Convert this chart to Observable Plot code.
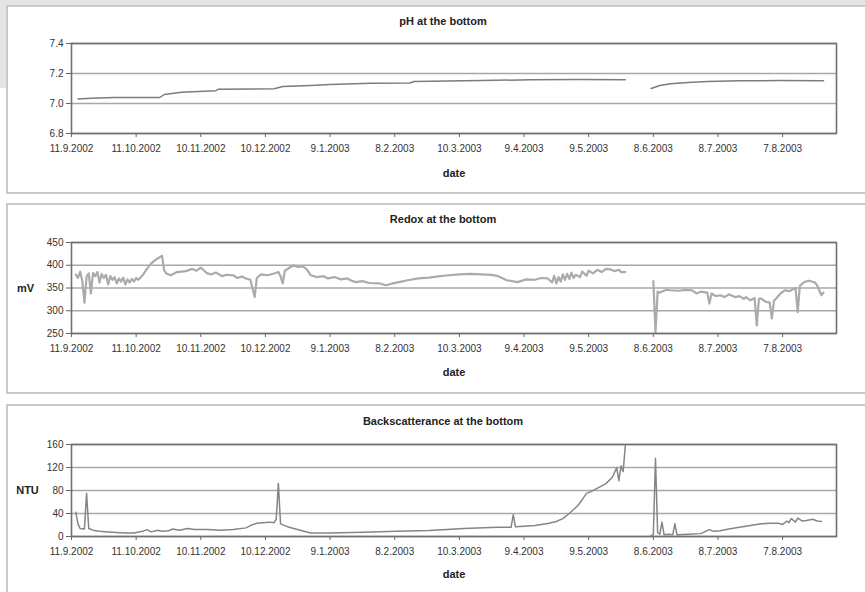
<!DOCTYPE html>
<html>
<head>
<meta charset="utf-8">
<script src="https://cdn.jsdelivr.net/npm/d3@7"></script>
<script src="https://cdn.jsdelivr.net/npm/@observablehq/plot@0.6"></script>
<style>
  html, body { margin: 0; padding: 0; background: #fff; }
  #page { position: relative; width: 865px; height: 592px; overflow: hidden; background: #fff; font-family: "Liberation Sans", Arial, sans-serif; }
  .bg-top { position: absolute; left: 0; top: 0; width: 865px; height: 5px; background: #e4e4e4; }
  .bg-left { position: absolute; left: 0; top: 0; width: 6px; height: 88px; background: #e4e4e4; }
  .panel { position: absolute; left: 6px; width: 900px; border: 2px solid #c9c9c9; border-right: none; box-sizing: border-box; }
  .chart { position: absolute; left: 0; }
</style>
</head>
<body>
<div id="page">
  <div class="bg-top"></div>
  <div class="bg-left"></div>
  <div class="panel" style="top:5px;height:189px;"></div>
  <div class="panel" style="top:203px;height:191px;"></div>
  <div class="panel" style="top:404px;height:200px;"></div>
</div>
<script>
// ---- data ----
const tickLabels = ["11.9.2002","11.10.2002","10.11.2002","10.12.2002","9.1.2003","8.2.2003","10.3.2003","9.4.2003","9.5.2003","8.6.2003","8.7.2003","7.8.2003"];
const xStart = "2002-09-11";
const xEnd = "2003-09-01";

const titles = ["pH at the bottom", "Redox at the bottom", "Backscatterance at the bottom"];
const yLabels = ["", "mV", "NTU"];
const phTicks = [6.8, 7.0, 7.2, 7.4];
const redoxTicks = [250, 300, 350, 400, 450];
const ntuTicks = [0, 40, 80, 120, 160];

const phData = [
["2002-09-14",7.03],["2002-09-20",7.035],["2002-10-01",7.04],["2002-10-22",7.04],["2002-10-24",7.06],
["2002-11-01",7.075],["2002-11-09",7.08],["2002-11-17",7.085],["2002-11-18",7.095],["2002-12-14",7.098],
["2002-12-18",7.113],["2002-12-31",7.12],["2003-01-09",7.127],["2003-01-28",7.135],["2003-02-15",7.137],
["2003-02-17",7.147],["2003-03-20",7.153],["2003-04-12",7.158],["2003-05-05",7.16],["2003-05-26",7.158],
["2003-06-01",null],
["2003-06-07",7.1],["2003-06-11",7.12],["2003-06-16",7.131],["2003-06-24",7.14],["2003-07-03",7.147],
["2003-07-18",7.151],["2003-08-06",7.153],["2003-08-26",7.151]
];

const redoxData = [
["2002-09-13",380],["2002-09-14",372],["2002-09-15",386],["2002-09-16",366],["2002-09-17",318],["2002-09-18",375],
["2002-09-19",382],["2002-09-20",338],["2002-09-21",383],["2002-09-22",376],["2002-09-23",385],["2002-09-24",362],
["2002-09-25",381],["2002-09-26",372],["2002-09-27",379],["2002-09-28",358],["2002-09-29",376],["2002-09-30",368],
["2002-10-01",374],["2002-10-02",360],["2002-10-03",371],["2002-10-04",364],["2002-10-05",373],["2002-10-06",358],
["2002-10-07",369],["2002-10-08",362],["2002-10-09",370],["2002-10-10",364],["2002-10-11",372],["2002-10-12",368],
["2002-10-14",378],["2002-10-16",392],["2002-10-18",404],["2002-10-20",412],["2002-10-22",418],["2002-10-23",421],
["2002-10-24",389],["2002-10-25",382],["2002-10-27",378],["2002-10-30",385],["2002-11-03",387],["2002-11-06",392],
["2002-11-08",388],["2002-11-10",395],["2002-11-13",382],["2002-11-15",380],["2002-11-17",384],["2002-11-20",376],
["2002-11-22",379],["2002-11-25",378],["2002-11-27",372],["2002-11-29",375],["2002-12-01",371],["2002-12-03",368],
["2002-12-05",330],["2002-12-06",372],["2002-12-08",380],["2002-12-11",378],["2002-12-14",382],["2002-12-16",385],
["2002-12-17",376],["2002-12-18",360],["2002-12-19",388],["2002-12-21",394],["2002-12-23",400],["2002-12-25",396],
["2002-12-27",398],["2002-12-29",392],["2002-12-31",378],["2003-01-03",374],["2003-01-06",376],["2003-01-08",371],
["2003-01-11",374],["2003-01-14",369],["2003-01-17",371],["2003-01-19",366],["2003-01-21",363],["2003-01-24",365],
["2003-01-27",361],["2003-02-01",360],["2003-02-04",356],["2003-02-07",360],["2003-02-10",363],["2003-02-14",367],
["2003-02-19",371],["2003-02-24",373],["2003-03-01",376],["2003-03-05",378],["2003-03-10",380],["2003-03-15",381],
["2003-03-20",380],["2003-03-25",379],["2003-03-28",376],["2003-04-01",367],["2003-04-06",363],["2003-04-10",369],
["2003-04-14",368],["2003-04-17",372],["2003-04-20",371],["2003-04-22",362],["2003-04-23",377],["2003-04-24",360],
["2003-04-25",374],["2003-04-26",364],["2003-04-27",380],["2003-04-28",368],["2003-04-29",381],["2003-04-30",370],
["2003-05-01",384],["2003-05-02",372],["2003-05-03",379],["2003-05-05",374],["2003-05-06",386],["2003-05-08",377],
["2003-05-09",388],["2003-05-11",382],["2003-05-13",390],["2003-05-15",385],["2003-05-17",392],["2003-05-19",391],
["2003-05-21",387],["2003-05-23",390],["2003-05-24",385],["2003-05-26",385],
["2003-06-01",null],
["2003-06-08",365],["2003-06-09",253],["2003-06-10",342],["2003-06-11",340],["2003-06-14",346],["2003-06-16",345],
["2003-06-20",344],["2003-06-23",346],["2003-06-26",345],["2003-06-28",338],["2003-06-30",342],["2003-07-03",340],
["2003-07-04",316],["2003-07-05",338],["2003-07-07",332],["2003-07-09",334],["2003-07-11",330],["2003-07-13",336],
["2003-07-16",330],["2003-07-18",332],["2003-07-20",326],["2003-07-21",330],["2003-07-23",323],["2003-07-25",328],
["2003-07-26",268],["2003-07-27",326],["2003-07-28",327],["2003-07-30",320],["2003-08-01",318],["2003-08-02",283],
["2003-08-03",322],["2003-08-04",327],["2003-08-06",338],["2003-08-08",345],["2003-08-10",343],["2003-08-13",350],
["2003-08-14",297],["2003-08-15",355],["2003-08-17",363],["2003-08-19",366],["2003-08-20",365],["2003-08-22",362],
["2003-08-23",356],["2003-08-25",334],["2003-08-26",340]
];

const ntuData = [
["2002-09-13",42],["2002-09-14",22],["2002-09-15",14],["2002-09-17",13],["2002-09-18",75],["2002-09-19",14],
["2002-09-21",11],["2002-09-24",9],["2002-09-28",8],["2002-10-02",7],["2002-10-06",6],["2002-10-10",6],
["2002-10-14",9],["2002-10-16",12],["2002-10-18",8],["2002-10-21",11],["2002-10-23",9],["2002-10-26",10],
["2002-10-28",13],["2002-10-31",11],["2002-11-04",14],["2002-11-07",12],["2002-11-13",12],["2002-11-19",11],
["2002-11-25",12],["2002-12-01",15],["2002-12-03",19],["2002-12-06",23],["2002-12-09",24],["2002-12-12",25],
["2002-12-14",24],["2002-12-15",30],["2002-12-16",92],["2002-12-17",22],["2002-12-19",19],["2002-12-21",16],
["2002-12-24",13],["2002-12-27",10],["2002-12-31",6],["2003-01-09",6],["2003-01-24",7.5],["2003-02-09",9],
["2003-02-24",10.5],["2003-03-12",14],["2003-03-28",16],["2003-04-03",16],["2003-04-04",38],["2003-04-05",17],
["2003-04-07",17.5],["2003-04-14",19],["2003-04-20",22.6],["2003-04-24",26],["2003-04-27",31],["2003-04-30",40],
["2003-05-02",47],["2003-05-04",54],["2003-05-06",64],["2003-05-08",75],["2003-05-10",78],["2003-05-12",82],
["2003-05-14",86],["2003-05-17",92],["2003-05-20",103],["2003-05-22",120],["2003-05-23",97],["2003-05-24",123],
["2003-05-25",113],["2003-05-26",158],
["2003-06-01",null],
["2003-06-07",2],["2003-06-08",3],["2003-06-09",136],["2003-06-10",7],["2003-06-11",4],["2003-06-12",25],
["2003-06-13",3],["2003-06-15",4],["2003-06-17",3],["2003-06-18",22],["2003-06-19",3],["2003-06-24",4],
["2003-06-30",5],["2003-07-04",12],["2003-07-06",9],["2003-07-09",10],["2003-07-13",13],["2003-07-18",16],
["2003-07-23",19],["2003-07-28",22],["2003-08-01",23],["2003-08-05",23],["2003-08-07",21],["2003-08-09",27],
["2003-08-10",24],["2003-08-11",31],["2003-08-12",28],["2003-08-13",25],["2003-08-14",32],["2003-08-16",27],
["2003-08-18",28],["2003-08-21",30],["2003-08-23",27],["2003-08-25",26]
];

// ---- helpers ----
const parseISO = d3.utcParse("%Y-%m-%d");
const parseDMY = d3.utcParse("%d.%m.%Y");
const xTicks = tickLabels.map(parseDMY);
const fmtDMY = d => `${d.getUTCDate()}.${d.getUTCMonth() + 1}.${d.getUTCFullYear()}`;
const toRows = arr => arr.map(([d, v]) => ({date: parseISO(d), value: v}));

const FONT = "'Liberation Sans', Arial, Helvetica, sans-serif";

function panel({top, height, mt, mb, data, yDomain, yTicks, yFmt, title, ylabel, stroke, strokeWidth, titleDy, dateDy, ylabelDx}) {
  const rows = toRows(data);
  const marks = [
    Plot.gridY(yTicks, {stroke: "#a8a8a8", strokeOpacity: 1, strokeWidth: 1.4}),
    Plot.axisY(yTicks, {tickSize: 5, tickPadding: 3, tickFormat: yFmt, stroke: "#666", fill: "#333", label: null}),
    Plot.axisX(xTicks, {tickSize: 4, tickPadding: 7, tickFormat: fmtDMY, stroke: "#666", fill: "#333", label: null}),
    Plot.lineY(rows, {x: "date", y: "value", stroke, strokeWidth, curve: "linear"}),
    Plot.frame({stroke: "#707070", strokeWidth: 1.6}),
    Plot.text([title], {frameAnchor: "top", lineAnchor: "middle", dy: titleDy, dx: -11, fontWeight: "bold", fontSize: 11, fill: "#222"}),
    Plot.text(["date"], {frameAnchor: "bottom", lineAnchor: "middle", dy: dateDy, fontWeight: "bold", fontSize: 11, fill: "#222"})
  ];
  if (ylabel) marks.push(Plot.text([ylabel], {frameAnchor: "left", lineAnchor: "middle", textAnchor: "middle", dx: ylabelDx, fontWeight: "bold", fontSize: 11, fill: "#222"}));
  const svg = Plot.plot({
    width: 865,
    height,
    marginLeft: 71,
    marginRight: 29,
    marginTop: mt,
    marginBottom: mb,
    style: {fontFamily: FONT, fontSize: "10px", background: "transparent", color: "#333", overflow: "visible"},
    x: {type: "utc", domain: [parseISO(xStart), parseISO(xEnd)]},
    y: {domain: yDomain},
    marks
  });
  svg.classList.add("chart");
  svg.style.top = top + "px";
  document.getElementById("page").appendChild(svg);
}

panel({top: 0, height: 190, mt: 43, mb: 57, data: phData, yDomain: [6.8, 7.4], yTicks: phTicks, yFmt: d3.format(".1f"),
  title: titles[0], ylabel: yLabels[0], stroke: "#7c7c7c", strokeWidth: 1.5, titleDy: -22, dateDy: 39.5, ylabelDx: -46});
panel({top: 200, height: 190, mt: 42, mb: 57, data: redoxData, yDomain: [250, 450], yTicks: redoxTicks, yFmt: d3.format("d"),
  title: titles[1], ylabel: yLabels[1], stroke: "#ababab", strokeWidth: 2.2, titleDy: -23, dateDy: 39, ylabelDx: -46});
panel({top: 400, height: 192, mt: 44, mb: 56, data: ntuData, yDomain: [0, 160], yTicks: ntuTicks, yFmt: d3.format("d"),
  title: titles[2], ylabel: yLabels[2], stroke: "#858585", strokeWidth: 1.5, titleDy: -23.5, dateDy: 38, ylabelDx: -44});
</script>
</body>
</html>
